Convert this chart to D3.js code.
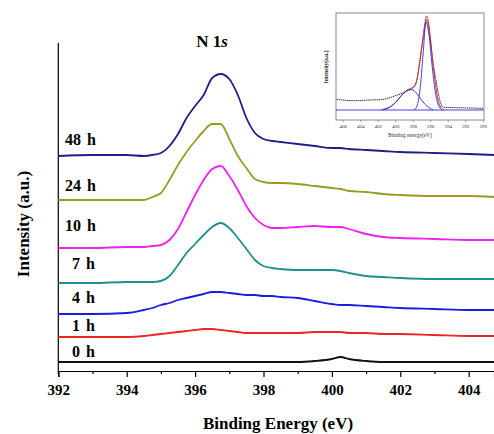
<!DOCTYPE html>
<html><head><meta charset="utf-8">
<script src="https://cdn.jsdelivr.net/npm/d3@7"></script>
<style>
html,body{margin:0;padding:0;background:#fff;}
svg{display:block;}
text{font-family:"Liberation Serif","Times New Roman",serif;}
</style></head>
<body>
<svg id="chart" width="494" height="434"></svg>
<script>
// ---------- Main chart data ----------
const energies = [392, 393, 394, 394.5, 394.75, 395, 395.25, 395.5, 395.75, 396, 396.25, 396.5, 396.75, 397, 397.25, 397.5, 397.75, 398, 398.25, 398.5, 399, 399.5, 400, 400.25, 400.5, 401, 401.5, 402, 403, 404, 404.75];
const seriesNames = ["0 h", "1 h", "4 h", "7 h", "10 h", "24 h", "48 h"];
const seriesColors = ["#111111", "#f02424", "#1c1ce0", "#1f9090", "#f020f0", "#9a9a24", "#1e1e88"];
const s0h  = [9,9,9,9,9,9,9,9,9,9,9,9,9,9,9,9,9,9,9,9,9,10,12,14,12,10,9,9,9,9,9];
const s1h  = [34,34,34,35,36,37,38,39,40,41,42,42,41,40,39,38,38,38,38,38,38,39,39,39,38,38,37,37,36,35,35];
const s4h  = [57,57,58,61,63,66,68,71,73,75,77,79,79,78,77,76,76,75,75,74,73,70,67,66,66,65,64,63,62,61,61];
const s7h  = [88,88,89,89,89,90,95,106,118,127,136,144,148,143,133,122,111,105,103,102,101,101,101,100,98,95,94,93,92,92,92];
const s10h = [123,123,124,124,125,126,131,142,159,176,191,202,205,195,181,165,153,146,143,143,144,145,144,144,142,137,134,133,132,131,131];
const s24h = [171,171,171,171,174,178,191,206,219,230,240,247,247,232,215,203,192,189,188,188,187,185,183,182,180,179,177,176,175,175,174];
const s48h = [215,216,216,215,216,218,225,237,253,265,276,293,297,292,276,253,238,232,230,229,227,225,223,223,222,221,220,219,218,217,216];
const seriesValues = [s0h, s1h, s4h, s7h, s10h, s24h, s48h];
const xTickValues = [392, 394, 396, 398, 400, 402, 404];
const xMinorTicks = [393, 395, 397, 399, 401, 403];

// ---------- Inset data ----------
const insetTicks = [406, 404, 402, 400, 398, 396, 394, 392, 390];
const insetDataE = [406.7, 404.8, 402.9, 401.74, 399.83, 398.69, 397.93, 397.54, 397.17, 396.79, 396.4, 396.02, 395.71, 395.45, 395.19, 394.88, 394.5, 391.45, 389.9];
const insetDataV = [20.7, 19.3, 20, 20.3, 24.7, 28.7, 32, 39, 59, 82, 100.3, 82, 59, 45.3, 32, 19, 12.7, 12, 11.5];
const insetFitE = [401.5, 400.8, 400.02, 399.34, 398.77, 398.4, 397.97, 397.6, 397.25, 396.9, 396.62, 396.42, 396.2, 395.95, 395.7, 395.4, 395.1, 394.8, 394.4];
const insetFitV = [10.5, 12, 17, 24, 29, 31, 33, 38, 55, 78, 96, 104, 98, 80, 58, 36, 20, 13, 10];
const insetC1E = [397.85, 397.51, 397.17, 396.82, 396.48, 396.14, 395.79, 395.45, 395.11, 394.65];
const insetC1V = [10, 14, 30, 65, 98, 85, 55, 30, 16, 10];
const insetC2E = [401.54, 400.82, 400.02, 399.34, 398.77, 398.39, 397.97, 397.39, 396.82, 396.25, 395.65];
const insetC2V = [10, 12, 17, 24, 29, 30.7, 30, 25, 18, 13, 10];
const insetBaseE = [406.77, 389.85];
const insetBaseV = [10, 10];

const svg = d3.select("#chart");

// ---------- Main scales ----------
const x = d3.scaleLinear().domain([392, 404.74]).range([58.3, 494]);
const y = d3.scaleLinear().domain([0, 328]).range([371, 43]);

// axes lines
svg.append("line").attr("x1", 58.3).attr("x2", 58.3).attr("y1", 43).attr("y2", 374)
  .attr("stroke", "#000").attr("stroke-width", 1.2);

const xAxis = d3.axisBottom(x).tickValues(xTickValues).tickSize(6).tickFormat(d3.format("d"));
const gx = svg.append("g").attr("transform", "translate(0,371)").call(xAxis);
gx.select(".domain").attr("stroke", "#000").attr("stroke-width", 1.2);
gx.selectAll(".tick line").attr("stroke", "#000").attr("stroke-width", 1.2);
gx.selectAll(".tick text").attr("font-size", "15px").attr("font-weight", "bold")
  .attr("font-family", "'Liberation Serif','Times New Roman',serif").attr("fill", "#000").attr("dy", "0.95em").attr("y", 10);
const gxm = svg.append("g").attr("transform", "translate(0,371)")
  .call(d3.axisBottom(x).tickValues(xMinorTicks).tickSize(3).tickFormat(""));
gxm.select(".domain").remove();
gxm.selectAll(".tick line").attr("stroke", "#000").attr("stroke-width", 1.2);

// lines
const line = d3.line().x((d, i) => x(energies[i])).y(d => y(d)).curve(d3.curveMonotoneX);
seriesValues.forEach((vals, k) => {
  svg.append("path").datum(vals).attr("d", line)
    .attr("fill", "none").attr("stroke", seriesColors[k]).attr("stroke-width", 1.8)
    .attr("stroke-linejoin", "round");
});

// series labels
const labelX = [72, 72, 72, 72, 65, 65, 65];
const labelY = [357, 331, 303, 269, 231, 191, 145];
seriesNames.forEach((n, k) => {
  svg.append("text").attr("x", labelX[k]).attr("y", labelY[k]).text(n)
    .attr("font-size", "16px").attr("font-weight", "bold").attr("fill", "#000")
    .attr("word-spacing", "2px");
});

// title N 1s
const t = svg.append("text").attr("x", 212).attr("y", 47).attr("text-anchor", "middle")
  .attr("font-size", "17px").attr("font-weight", "bold").attr("fill", "#000");
t.append("tspan").text("N 1");
t.append("tspan").text("s").attr("font-style", "italic");

// axis titles
svg.append("text").attr("x", 278).attr("y", 429).attr("text-anchor", "middle")
  .attr("font-size", "17px").attr("font-weight", "bold").attr("fill", "#000").text("Binding Energy (eV)");
svg.append("text").attr("transform", "translate(29,224) rotate(-90)").attr("text-anchor", "middle")
  .attr("font-size", "17px").attr("font-weight", "bold").attr("fill", "#000").text("Intensity (a.u.)");

// ---------- Inset ----------
const ix = d3.scaleLinear().domain([406.77, 389.85]).range([336, 484]);
const iy = d3.scaleLinear().domain([0, 107]).range([120, 13]);
const ig = svg.append("g");
ig.append("rect").attr("x", 336).attr("y", 13).attr("width", 148).attr("height", 107)
  .attr("fill", "#fff").attr("stroke", "#8a8a8a").attr("stroke-width", 1);
const ixAxis = d3.axisBottom(ix).tickValues(insetTicks).tickSize(2).tickFormat(d3.format("d"));
const gix = ig.append("g").attr("transform", "translate(0,120)").call(ixAxis);
gix.select(".domain").remove();
gix.selectAll(".tick line").attr("stroke", "#666").attr("stroke-width", 0.6);
gix.selectAll(".tick text").attr("font-size", "5px").attr("fill", "#333")
  .attr("font-family", "'Liberation Serif','Times New Roman',serif").attr("y", 4);
ig.append("text").attr("x", 410).attr("y", 137).attr("text-anchor", "middle")
  .attr("font-size", "5.5px").attr("fill", "#333").text("Binding energy(eV)");
ig.append("text").attr("transform", "translate(328,67) rotate(-90)").attr("text-anchor", "middle")
  .attr("font-size", "5.5px").attr("font-weight", "bold").attr("fill", "#222").text("Intensity(a.u.)");

const iline = (E) => d3.line().x((d, i) => ix(E[i])).y(d => iy(d)).curve(d3.curveMonotoneX);
ig.append("path").datum(insetBaseV).attr("d", iline(insetBaseE)).attr("fill", "none").attr("stroke", "#2c2cd8").attr("stroke-width", 0.9);
ig.append("path").datum(insetDataV).attr("d", iline(insetDataE)).attr("fill", "none").attr("stroke", "#222").attr("stroke-width", 0.9).attr("stroke-dasharray", "1.5,0.6");
ig.append("path").datum(insetFitV).attr("d", iline(insetFitE)).attr("fill", "none").attr("stroke", "#e02020").attr("stroke-width", 0.9);
ig.append("path").datum(insetC2V).attr("d", iline(insetC2E)).attr("fill", "none").attr("stroke", "#2c2cd8").attr("stroke-width", 0.9);
ig.append("path").datum(insetC1V).attr("d", iline(insetC1E)).attr("fill", "none").attr("stroke", "#2c2cd8").attr("stroke-width", 0.9);
</script>
</body></html>
